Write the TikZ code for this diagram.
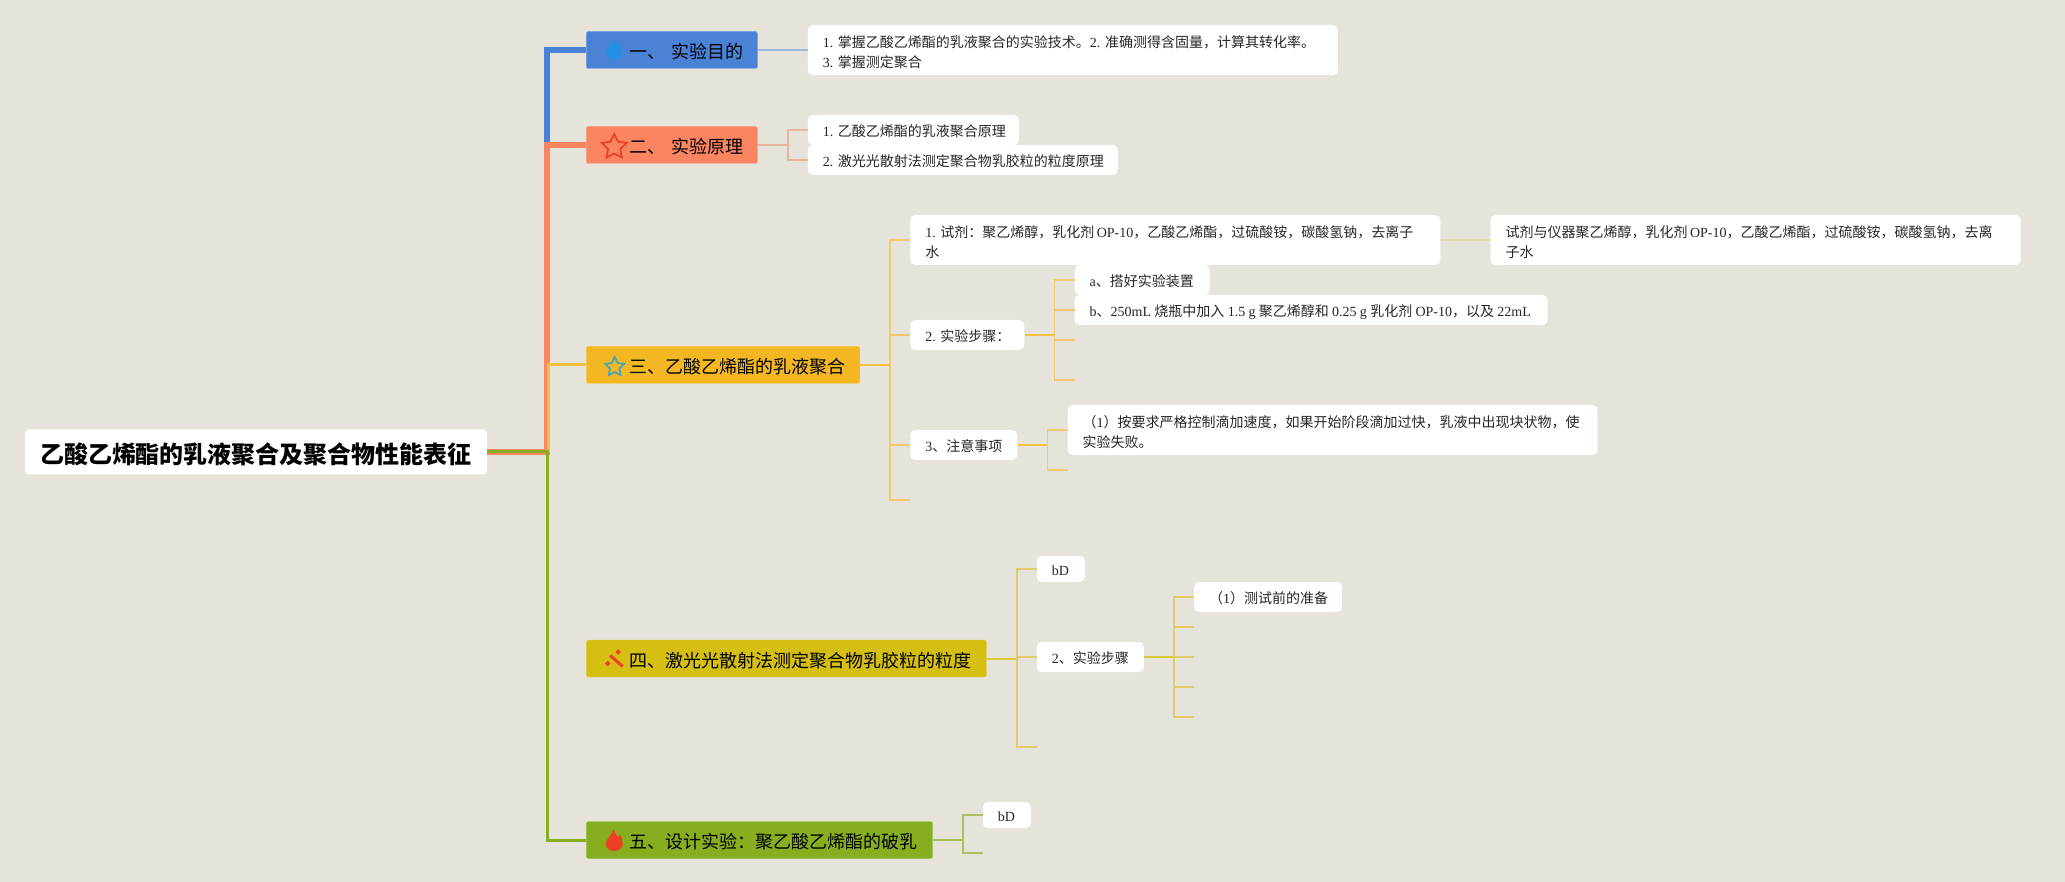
\documentclass[tikz,border=0pt]{standalone}
\usepackage{fontspec}
\usepackage{xcolor}
\usetikzlibrary{positioning,shapes.geometric}
\setmainfont{Noto Sans CJK SC}
\newfontfamily\latfont{Liberation Serif}
\newcommand{\lat}[1]{{\latfont #1}}
\newcommand{\gapb}{\kern3.3pt}
\definecolor{paper}{HTML}{E6E3DA}
\definecolor{blueA}{HTML}{4A82D6}
\definecolor{blueB}{HTML}{9DB8D8}
\definecolor{blueC}{HTML}{2490E4}
\definecolor{orangeA}{HTML}{FA8560}
\definecolor{orangeB}{HTML}{E8B49C}
\definecolor{yellowA}{HTML}{F2B722}
\definecolor{yellowB}{HTML}{F2C870}
\definecolor{yellowC}{HTML}{E8D8A8}
\definecolor{goldA}{HTML}{D6BF13}
\definecolor{goldB}{HTML}{DFCE68}
\definecolor{greenA}{HTML}{86AE1E}
\definecolor{greenB}{HTML}{AEC060}
\definecolor{redA}{HTML}{EE3F24}
\definecolor{tealA}{HTML}{4AA6B4}
\tikzset{
  flame/.pic={
    \fill[pic actions] (-1,11) .. controls (1,7) and (2.5,5) .. (3.5,2.5) .. controls (4.5,3.5) and (5,5) .. (5,6)
      .. controls (7.5,3) and (8.5,0) .. (8.5,-3.5) .. controls (8.5,-8) and (4.5,-11) .. (0,-11)
      .. controls (-5,-11) and (-8.5,-8) .. (-8.5,-3.5) .. controls (-8.5,1) and (-2,4) .. (-1,11) -- cycle;
  },
  wand/.pic={
    \draw[pic actions,line width=3pt] (-4,3) -- (8.5,-8);
    \fill[pic actions] (4,9) -- (6.5,6.5) -- (4,4) -- (1.5,6.5) -- cycle;
    \fill[pic actions] (-6.5,-2.5) -- (-4,-5) -- (-6.5,-7.5) -- (-9,-5) -- cycle;
  }
}
\begin{document}
\begin{tikzpicture}[x=1pt,y=1pt,node distance=50pt,
    rootbox/.style={fill=white,rounded corners=4pt,minimum width=462pt,minimum height=45pt,inner sep=0pt,text height=26pt,text depth=3pt,font=\fontsize{24}{28}\selectfont\bfseries},
    head/.style={rounded corners=2pt,minimum height=37pt,inner xsep=0pt,inner ysep=0pt,align=left,text width=#1,text height=20pt,text depth=2.2pt,font=\fontsize{18}{22}\selectfont,execute at begin node={\hspace*{43pt}}},
    leaf/.style={fill=white,rounded corners=5pt,minimum height=30pt,inner xsep=15pt,inner ysep=0pt,align=left,text width=#1,text height=15pt,text depth=1.7pt,font=\fontsize{14}{20}\selectfont,text=black!85},
    tall/.style={minimum height=50pt,text height=16pt,text depth=21.7pt},
    low/.style={minimum height=26pt},
    starmark/.style={star,star points=5,star point ratio=2,inner sep=0pt,line width=1.8pt},
    line1/.style={blueB,line width=1.8pt},
    line2/.style={orangeB,line width=1.8pt},
    line3/.style={yellowB,line width=1.8pt},
    line4/.style={goldB,line width=1.8pt},
    line5/.style={greenB,line width=1.8pt}]
  \useasboundingbox (0,0) rectangle (2065,-882);
  \fill[paper] (0,0) rectangle (2065,-882);

  \node[rootbox]                     (root) at (256,-452)              {乙酸乙烯酯的乳液聚合及聚合物性能表征};
  \coordinate[right=60pt of root]    (bus);
  \coordinate[right=61.5pt of root]  (busb);

  \node[head=171pt,fill=blueA,draw=blueA!80!white]      (b1) [right=99pt of root,yshift=402pt]  {一、 实验目的};
  \node[head=171pt,fill=orangeA,draw=orangeA!80!white]  (b2) [right=99pt of root,yshift=307pt]  {二、 实验原理};
  \node[head=273.5pt,fill=yellowA,draw=yellowA!80!white] (b3) [right=99pt of root,yshift=87pt]   {三、乙酸乙烯酯的乳液聚合};
  \node[head=400pt,fill=goldA,draw=goldA!80!white]      (b4) [right=99pt of root,yshift=-206.5pt] {四、激光光散射法测定聚合物乳胶粒的粒度};
  \node[head=346pt,fill=greenA,draw=greenA!80!white]    (b5) [right=99pt of root,yshift=-388pt] {五、设计实验：聚乙酸乙烯酯的破乳};

  \pic[fill=blueC,scale=.95] at ([xshift=28pt,yshift=1pt]b1.west) {flame};
  \node[starmark,draw=redA,minimum size=26pt]   (s2) at ([xshift=28pt,yshift=-2pt]b2.west) {};
  \node[starmark,draw=tealA,minimum size=20pt]  (s3) at ([xshift=28.5pt,yshift=-2pt]b3.west) {};
  \pic[draw=redA,fill=redA] at ([xshift=28pt]b4.west) {wand};
  \pic[fill=redA] at ([xshift=28pt]b5.west) {flame};

  \node[leaf=500pt,tall]  (t1)  [right=of b1]               {\lat{1.~}掌握乙酸乙烯酯的乳液聚合的实验技术。\lat{2.~}准确测得含固量，计算其转化率。\\\lat{3.~}掌握测定聚合};
  \node[leaf=181pt]       (t2a) [right=of b2,yshift=15pt]   {\lat{1.~}乙酸乙烯酯的乳液聚合原理};
  \node[leaf=280pt]       (t2b) [right=of b2,yshift=-15pt]  {\lat{2.~}激光光散射法测定聚合物乳胶粒的粒度原理};

  \node[leaf=500pt,tall]  (c1)  [right=of b3,yshift=125pt]  {\lat{1.~}试剂：聚乙烯醇，乳化剂\lat{\,OP-10}，乙酸乙烯酯，过硫酸铵，碳酸氢钠，去离子\\水};
  \node[leaf=500pt,tall]  (c1r) [right=of c1]               {试剂与仪器聚乙烯醇，乳化剂\lat{\,OP-10}，乙酸乙烯酯，过硫酸铵，碳酸氢钠，去离\\子水};
  \node[leaf=84pt]        (c2)  [right=of b3,yshift=30pt]   {\lat{2.~}实验步骤：};
  \node[leaf=77pt]        (c3)  [right=of b3,yshift=-80pt]  {\lat{3}、注意事项};
  \coordinate[right=of b3,yshift=-135pt] (c4);
  \node[leaf=105pt]       (d1)  [right=of c2,yshift=55pt]   {\lat{a}、搭好实验装置};
  \node[leaf=443pt]       (d2)  [right=of c2,yshift=25pt]   {\mbox{\lat{b}、\lat{250mL\gapb}烧瓶中加入\lat{\gapb1.5\gapb g\gapb}聚乙烯醇和\lat{\gapb0.25\gapb g\gapb}乳化剂\lat{\gapb OP-10}，以及\lat{\gapb22mL}}};
  \coordinate[right=of c2,yshift=-5pt]  (d3);
  \coordinate[right=of c2,yshift=-45pt] (d4);
  \node[leaf=500pt,tall]  (e1)  [right=of c3,yshift=15pt]   {（\lat{1}）按要求严格控制滴加速度，如果开始阶段滴加过快，乳液中出现块状物，使\\实验失败。};
  \coordinate[right=of c3,yshift=-25pt] (e2);

  \node[leaf=18pt,low]    (f1)  [right=of b4,yshift=89.5pt] {\lat{bD}};
  \node[leaf=77pt]        (f2)  [right=of b4,yshift=1.5pt]  {\lat{2}、实验步骤};
  \coordinate[right=of b4,yshift=-88.5pt] (f3);
  \node[leaf=118pt]       (g1)  [right=of f2,yshift=60pt]   {（\lat{1}）测试前的准备};
  \coordinate[right=of f2,yshift=30pt]  (g2);
  \coordinate[right=of f2]              (g3);
  \coordinate[right=of f2,yshift=-30pt] (g4);
  \coordinate[right=of f2,yshift=-60pt] (g5);
  \node[leaf=18pt,low]    (h1)  [right=of b5,yshift=25pt]   {\lat{bD}};
  \coordinate[right=of b5,yshift=-13pt] (h2);

  \coordinate[right=30pt of b2] (fork2);
  \coordinate[right=30pt of b3] (fork3);
  \coordinate[right=30pt of b4] (fork4);
  \coordinate[right=30pt of b5] (fork5);
  \coordinate[right=30pt of c2] (forkc2);
  \coordinate[right=30pt of c3] (forkc3);
  \coordinate[right=30pt of f2] (forkf2);

  \draw[blueA,line width=6pt]   (root.east) -- (bus) |- (b1.west);
  \draw[orangeA,line width=6pt] (root.east) -- (bus) |- (b2.west);
  \draw[yellowA!85!white,line width=3pt] (root.east) -- (busb) |- (b3.west);
  \draw[greenA,line width=3pt]  (root.east) -- (bus) |- (b5.west);

  \path[line1] (b1) edge (t1);
  \path[line2,line width=2pt] (b2) edge (fork2);
  \draw[line2] (fork2) |- (t2a.west) (fork2) |- (t2b.west);

  \path[yellowA!85!white,line width=2pt] (b3) edge (fork3);
  \draw[line3] (fork3) |- (c1.west) (fork3) |- (c2.west) (fork3) |- (c3.west) (fork3) |- (c4);
  \path[yellowC,line width=2pt] (c1) edge (c1r);
  \path[yellowA!85!white,line width=2pt] (c2) edge (forkc2);
  \draw[line3] (forkc2) |- (d1.west) (forkc2) |- (d2.west) (forkc2) |- (d3) (forkc2) |- (d4);
  \path[yellowA!85!white,line width=2pt] (c3) edge (forkc3);
  \draw[line3] (forkc3) |- (e1.west) (forkc3) |- (e2);

  \path[goldA!85!white,line width=2pt] (b4) edge (fork4);
  \draw[line4] (fork4) |- (f1.west) (fork4) |- (f2.west) (fork4) |- (f3);
  \path[goldA!85!white,line width=2pt] (f2) edge (forkf2);
  \draw[line4] (forkf2) |- (g1.west) (forkf2) |- (g2) (forkf2) |- (g3) (forkf2) |- (g4) (forkf2) |- (g5);

  \path[greenA!75!white,line width=2pt] (b5) edge (fork5);
  \draw[line5] (fork5) |- (h1.west) (fork5) |- (h2);
\end{tikzpicture}
\end{document}
